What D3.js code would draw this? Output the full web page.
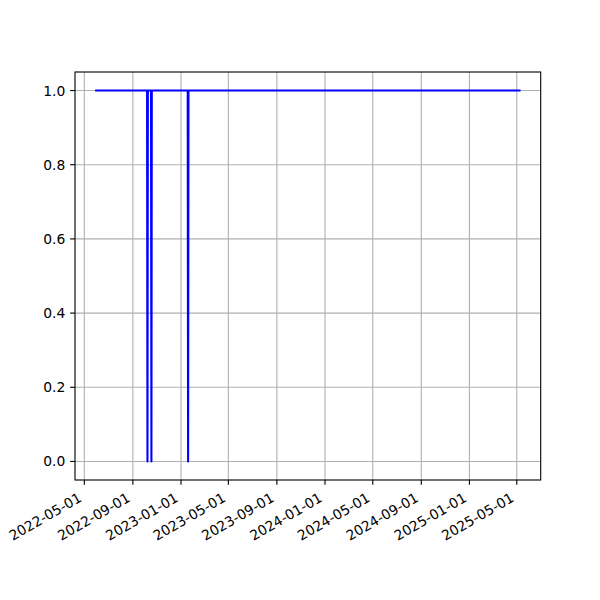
<!DOCTYPE html>
<html>
<head>
<meta charset="utf-8">
<script src="https://cdn.jsdelivr.net/npm/d3@7"></script>
<style>
  html, body { margin: 0; padding: 0; background: #fff; }
  svg { display: block; font-family: "DejaVu Sans", sans-serif; }
</style>
</head>
<body>
<svg id="chart" width="600" height="600"></svg>
<script>
// ---- data ----
const dates = [
  "2022-05-31", "2022-10-07", "2022-10-08", "2022-10-09",
  "2022-10-17", "2022-10-18", "2022-10-19",
  "2023-01-18", "2023-01-19", "2023-01-20", "2025-05-08"
];
const values = [1, 1, 0, 1, 1, 0, 1, 1, 0, 1, 1];
const xTickLabels = [
  "2022-05-01", "2022-09-01", "2023-01-01", "2023-05-01", "2023-09-01",
  "2024-01-01", "2024-05-01", "2024-09-01", "2025-01-01", "2025-05-01"
];
const yTickValues = [0.0, 0.2, 0.4, 0.6, 0.8, 1.0];

// ---- layout ----
const svg = d3.select("#chart");
const plotL = 75, plotR = 540.7, plotT = 72, plotB = 480;
const parse = d3.utcParse("%Y-%m-%d");
const pts = dates.map((d, i) => ({ date: parse(d), value: values[i] }));

const dMin = d3.min(pts, p => p.date).getTime();
const dMax = d3.max(pts, p => p.date).getTime();
const pad = (dMax - dMin) * 0.05;
const x = d3.scaleUtc().domain([new Date(dMin - pad), new Date(dMax + pad)]).range([plotL, plotR]);
const y = d3.scaleLinear().domain([-0.05, 1.05]).range([plotB, plotT]);

const tickLen = 4.86, tickPad = 4.86, fs = 13.89;
const xTicks = xTickLabels.map(parse);

// grid
const grid = svg.append("g");
grid.selectAll("line.gx").data(xTicks).join("line")
  .attr("x1", d => x(d)).attr("x2", d => x(d))
  .attr("y1", plotT).attr("y2", plotB)
  .attr("stroke", "#b0b0b0").attr("stroke-width", 1.11);
grid.selectAll("line.gy").data(yTickValues).join("line")
  .attr("x1", plotL).attr("x2", plotR)
  .attr("y1", d => y(d)).attr("y2", d => y(d))
  .attr("stroke", "#b0b0b0").attr("stroke-width", 1.11);

// line
const line = d3.line().x(p => x(p.date)).y(p => y(p.value));
svg.append("path").datum(pts)
  .attr("d", line)
  .attr("fill", "none")
  .attr("stroke", "#0000ff")
  .attr("stroke-width", 2.08)
  .attr("stroke-linejoin", "round")
  .attr("stroke-linecap", "square");

// spines
svg.append("rect").attr("x", plotL).attr("y", plotT)
  .attr("width", plotR - plotL).attr("height", plotB - plotT)
  .attr("fill", "none").attr("stroke", "#000").attr("stroke-width", 1.11);

// x ticks
const xg = svg.append("g");
xg.selectAll("line").data(xTicks).join("line")
  .attr("x1", d => x(d)).attr("x2", d => x(d))
  .attr("y1", plotB).attr("y2", plotB + tickLen)
  .attr("stroke", "#000").attr("stroke-width", 1.11);
const h = 16.2;
xg.selectAll("text").data(xTicks).join("text")
  .attr("transform", d => `translate(${x(d)},${plotB + tickLen + tickPad + 0.866 * h}) rotate(-30)`)
  .attr("text-anchor", "end")
  .attr("dy", -3.6)
  .attr("font-size", fs)
  .attr("fill", "#000")
  .text((d, i) => xTickLabels[i]);

// y ticks
const yg = svg.append("g");
yg.selectAll("line").data(yTickValues).join("line")
  .attr("x1", plotL - tickLen).attr("x2", plotL)
  .attr("y1", d => y(d)).attr("y2", d => y(d))
  .attr("stroke", "#000").attr("stroke-width", 1.11);
yg.selectAll("text").data(yTickValues).join("text")
  .attr("x", plotL - tickLen - tickPad)
  .attr("y", d => y(d))
  .attr("dy", "0.36em")
  .attr("text-anchor", "end")
  .attr("font-size", fs)
  .attr("fill", "#000")
  .text(d => d3.format(".1f")(d));
</script>
</body>
</html>
